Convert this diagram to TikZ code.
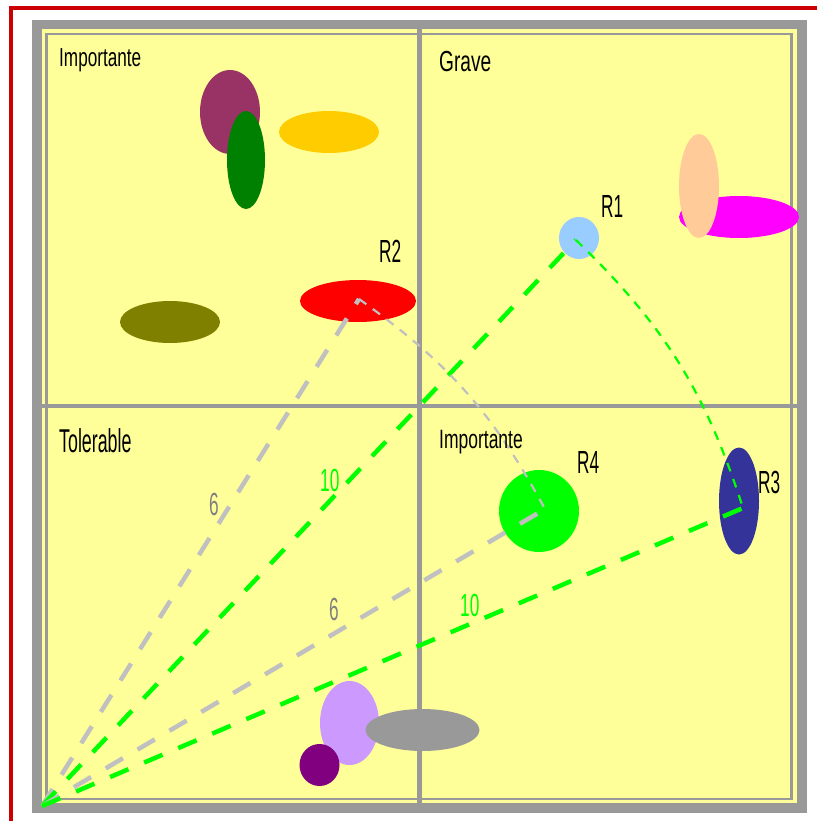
\documentclass[tikz,border=0pt]{standalone}
\usepackage{fontspec}
\setmainfont{Liberation Sans}
\newfontfamily\narrowfont[FakeStretch=0.54]{Liberation Sans}
\newfontfamily\quadfont[FakeStretch=0.66]{Liberation Sans}
\usetikzlibrary{shapes.geometric}

\definecolor{paper}{HTML}{FFFF99}
\definecolor{frame}{HTML}{999999}
\definecolor{border}{HTML}{CC0000}
\definecolor{silver}{HTML}{C0C0C0}
\definecolor{lime}{HTML}{00FF00}
\definecolor{numgray}{HTML}{808080}
\definecolor{plum}{HTML}{993366}
\definecolor{leaf}{HTML}{008000}
\definecolor{gold}{HTML}{FFCC00}
\definecolor{olive}{HTML}{808000}
\definecolor{sky}{HTML}{99CCFF}
\definecolor{peach}{HTML}{FFCC99}
\definecolor{pink}{HTML}{FF00FF}
\definecolor{navy}{HTML}{333399}
\definecolor{lavender}{HTML}{CC99FF}
\definecolor{grape}{HTML}{800080}

\begin{document}
\begin{tikzpicture}[x=1pt, y=-1pt]
            \tikzstyle{blob} = [ellipse, inner sep=0pt, draw=none]
            \tikzstyle{zone} = [anchor=base west, inner sep=0pt, text=black]
            \tikzstyle{tag} = [anchor=base west, inner sep=0pt, font=\narrowfont\fontsize{32}{32}\selectfont]
            \tikzstyle{link} = [line width=4.5pt, dash pattern=on 20pt off 17pt]
            \tikzstyle{hop} = [line width=2.2pt, dash pattern=on 9pt off 8pt]

            \useasboundingbox (0,0) rectangle (817,821);
            \draw[border, line width=3.5pt] (817,8) -- (11,8) -- (11,821);

            \fill[frame] (32,20) rectangle (807,813);
            \fill[paper] (42,29) rectangle (797,803);
            \draw[frame, line width=2.5pt] (46.5,34) rectangle (791.5,799);
            \draw[frame, line width=5pt] (419.5,20) -- (419.5,813);
            \draw[frame, line width=4.5pt] (42,406) -- (797,406);

            \node[blob, fill=plum, minimum width=60pt, minimum height=84pt] (b1) at (230,112) {};
            \node[blob, fill=leaf, minimum width=38pt, minimum height=98pt] (b2) at (246,160) {};
            \node[blob, fill=gold, minimum width=100pt, minimum height=42pt] (b3) at (329,132) {};
            \node[blob, fill=olive, minimum width=100pt, minimum height=42pt] (b4) at (170,322) {};
            \node[blob, fill=red, minimum width=116pt, minimum height=42pt] (r2) at (358,301) {};
            \node[blob, fill=sky, minimum width=40pt, minimum height=42pt] (r1) at (579,238) {};
            \node[blob, fill=pink, minimum width=120pt, minimum height=42pt] (b5) at (739,217) {};
            \node[blob, fill=peach, minimum width=40pt, minimum height=104pt] (b6) at (699,186) {};
            \node[blob, fill=navy, minimum width=40pt, minimum height=107pt] (r3) at (739,501) {};
            \node[blob, fill=lime, minimum width=80pt, minimum height=82pt] (r4) at (539,511) {};
            \node[blob, fill=lavender, minimum width=59pt, minimum height=84pt] (b7) at (349.5,723) {};
            \node[blob, fill=grape, minimum width=40pt, minimum height=42pt] (b8) at (319.5,765) {};
            \node[blob, fill=frame, minimum width=114pt, minimum height=42pt] (b9) at (422.5,730) {};

            \coordinate (o) at (42,806);
            \coordinate (h1) at (576,240);
            \coordinate (h2) at (359,299);
            \coordinate (h3) at (743,508);
            \coordinate (h4) at (545,509);

            \draw[link, silver] (o) -- (h2);
            \draw[link, lime] (o) -- (h1);
            \draw[link, silver] (o) -- (h4);
            \draw[link, lime] (o) -- (h3);
            \draw[hop, silver] (h2) to[bend left=13] (h4);
            \draw[hop, lime] (h1) to[bend left=14] (h3);

            \node[zone, font=\quadfont\fontsize{26}{26}\selectfont] (z1) at (59,67) {Importante};
            \node[zone, font=\quadfont\fontsize{29}{29}\selectfont] (z2) at (439,72) {Grave};
            \node[zone, font=\narrowfont\fontsize{33}{33}\selectfont] (z3) at (59,452) {Tolerable};
            \node[zone, font=\quadfont\fontsize{26.5}{26.5}\selectfont] (z4) at (439,448) {Importante};

            \node[tag] (t1) at (601,217) {R1};
            \node[tag] (t2) at (379,262) {R2};
            \node[tag] (t3) at (758,493) {R3};
            \node[tag] (t4) at (577,473) {R4};

            \node[tag, text=numgray] (w2) at (209,515) {6};
            \node[tag, text=lime] (w1) at (320,491) {10};
            \node[tag, text=numgray] (w4) at (329,620) {6};
            \node[tag, text=lime] (w3) at (460,616) {10};
        \end{tikzpicture}
\end{document}
